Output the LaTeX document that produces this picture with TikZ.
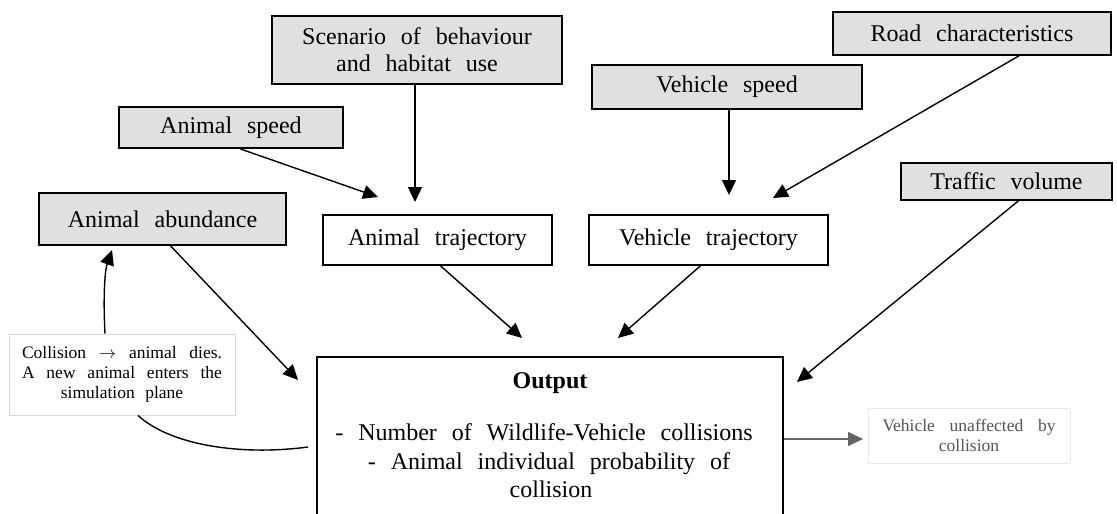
\documentclass[tikz,border=0pt]{standalone}
\usepackage{fontspec}
\setmainfont{Liberation Serif}
\usetikzlibrary{arrows.meta}
\definecolor{boxgray}{RGB}{224,224,224}
\definecolor{arrgray}{RGB}{100,100,100}
\definecolor{notegray}{RGB}{215,215,215}
\definecolor{ungray}{RGB}{232,232,232}
\definecolor{txtgray}{RGB}{85,85,85}
\newcommand\widesp{\spaceskip=0.62em\relax}
\tikzset{
  inbox/.style={draw=black, line width=1.6pt, fill=boxgray, inner sep=0pt, align=center,
    font=\fontsize{24}{27}\selectfont, execute at begin node=\widesp},
  midbox/.style={draw=black, line width=1.6pt, fill=white, inner sep=0pt, align=center,
    font=\fontsize{24}{27}\selectfont, execute at begin node=\widesp},
  arr/.style={line width=1.4pt, -{Triangle[length=15pt,width=14pt]}},
  garr/.style={line width=1.6pt, draw=arrgray, -{Triangle[length=15pt,width=14pt,fill=arrgray]}},
  notebox/.style={draw=notegray, line width=0.8pt, fill=white, inner sep=0pt, align=center,
    font=\fontsize{17.5}{20}\selectfont},
  txt/.style={inner sep=0pt, anchor=base, font=\fontsize{24}{28.5}\selectfont, execute at begin node=\widesp}
}
\begin{document}
\begin{tikzpicture}[x=1pt,y=-1pt]
\useasboundingbox (0,0) rectangle (1117,514);
% input boxes
\node[inbox, minimum width=290pt, minimum height=68pt] (scen) at (417,50) {Scenario of behaviour\\and habitat use};
\node[inbox, minimum width=278pt, minimum height=43pt] (road) at (972,33.5) {Road characteristics};
\node[inbox, minimum width=270pt, minimum height=44pt] (vspeed) at (727,87) {Vehicle speed};
\node[inbox, minimum width=224pt, minimum height=41pt] (aspeed) at (231,127.5) {Animal speed};
\node[inbox, minimum width=211pt, minimum height=37pt] (traffic) at (1006.5,181.5) {Traffic volume};
\node[inbox, minimum width=247pt, minimum height=52pt] (abund) at (162.5,219) {Animal abundance};
% trajectories
\node[midbox, minimum width=229pt, minimum height=50pt] (atraj) at (437.5,240) {Animal trajectory};
\node[midbox, minimum width=239pt, minimum height=50pt] (vtraj) at (708.5,240) {Vehicle trajectory};
% output
\node[draw=black, line width=1.6pt, fill=white, minimum width=466pt, minimum height=200pt, inner sep=0pt] (out) at (550,457) {};
\node[inner sep=0pt, anchor=base, font=\fontsize{24}{28}\selectfont\bfseries] (outt) at (550,388) {Output};
\node[txt] (outl1) at (544,440) {- Number of Wildlife-Vehicle collisions};
\node[txt] (outl2) at (549,469) {- Animal individual probability of};
\node[txt] (outl3) at (551,497) {collision};
% notes
\node[notebox, minimum width=226pt, minimum height=81pt] (note) at (122,374.5)
  {\hbox to 200pt{Collision\hfil$\rightarrow$\hfil animal\hfil dies.}\\
   \hbox to 200pt{A\hfil new\hfil animal\hfil enters\hfil the}\\
   simulation\hspace{0.6em}plane};
\node[notebox, draw=ungray, text=txtgray, minimum width=202pt, minimum height=55pt] (unaff) at (969,435.5)
  {\hbox to 173pt{Vehicle\hfil unaffected\hfil by}\\collision};
% tip coordinates
\coordinate (t1) at (378,197);
\coordinate (t2) at (415,202);
\coordinate (t3) at (729,195);
\coordinate (t4) at (773,198);
\coordinate (t5) at (298,380);
\coordinate (t6) at (522,338);
\coordinate (t7) at (618,338);
\coordinate (t8) at (797,382);
\coordinate (t9) at (112,250);
\coordinate (t10) at (863,439);
\coordinate (c0) at (308,447);
% connectors
\draw[arr] ([xshift=9pt]aspeed.south) -- (t1);
\draw[arr] (scen.south -| t2) -- (t2);
\draw[arr] (vspeed.south -| t3) -- (t3);
\draw[arr] ([xshift=47pt]road.south) -- (t4);
\draw[arr] ([xshift=8pt]abund.south) -- (t5);
\draw[arr] ([xshift=3pt]atraj.south) -- (t6);
\draw[arr] ([xshift=-8pt]vtraj.south) -- (t7);
\draw[arr] ([xshift=12pt]traffic.south) -- (t8);
\draw[arr] ([xshift=-17pt]note.north) .. controls (103,295) and (105,270) .. (t9);
\draw[line width=1.4pt] (c0) .. controls (240,456) and (170,445) .. ([xshift=16pt]note.south);
\draw[garr] (out.east |- t10) -- (t10);
\end{tikzpicture}
\end{document}
